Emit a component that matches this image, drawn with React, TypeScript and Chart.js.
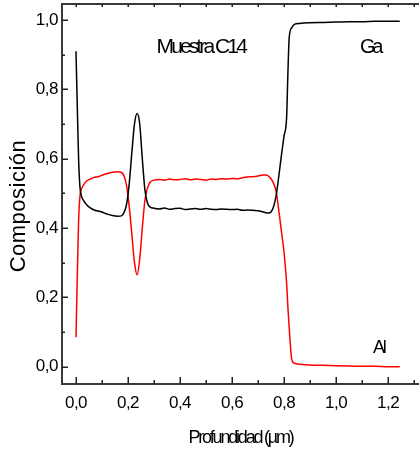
import React, { useEffect, useRef } from "react";
import { Chart, registerables } from "chart.js";

Chart.register(...registerables);

// Depth (µm)
const depth = [
  0, 0.005, 0.01, 0.015, 0.02,
  0.03, 0.04, 0.055, 0.07, 0.085,
  0.1, 0.12, 0.14, 0.16, 0.175,
  0.185, 0.195, 0.205, 0.215, 0.225,
  0.235, 0.245, 0.255, 0.265, 0.275,
  0.285, 0.3, 0.32, 0.34, 0.36,
  0.38, 0.4, 0.42, 0.44, 0.46,
  0.48, 0.5, 0.52, 0.54, 0.56,
  0.58, 0.6, 0.62, 0.64, 0.66,
  0.68, 0.7, 0.72, 0.73, 0.74,
  0.75, 0.76, 0.77, 0.78, 0.79,
  0.8, 0.81, 0.815, 0.82, 0.83,
  0.84, 0.86, 0.9, 0.95, 1.0,
  1.05, 1.1, 1.15, 1.2, 1.245,
];

// Ga composition (black)
const ga = [
  0.91, 0.75, 0.6, 0.52, 0.495,
  0.478, 0.468, 0.458, 0.452, 0.449,
  0.446, 0.44, 0.436, 0.434, 0.435,
  0.445, 0.47, 0.53, 0.62, 0.7,
  0.73, 0.7, 0.6, 0.51, 0.472,
  0.46, 0.457, 0.455, 0.458, 0.454,
  0.456, 0.457, 0.453, 0.455, 0.456,
  0.454, 0.456, 0.454, 0.453, 0.455,
  0.454, 0.453, 0.454, 0.451, 0.452,
  0.451, 0.45, 0.446, 0.444, 0.443,
  0.446, 0.462, 0.495, 0.55, 0.61,
  0.665, 0.72, 0.85, 0.95, 0.978,
  0.987, 0.99, 0.992, 0.993, 0.994,
  0.995, 0.995, 0.996, 0.996, 0.996,
];

// Al composition (red)
const al = [
  0.085, 0.26, 0.42, 0.49, 0.51,
  0.525, 0.535, 0.541, 0.546, 0.548,
  0.552, 0.557, 0.561, 0.562, 0.56,
  0.55, 0.52, 0.46, 0.38, 0.3,
  0.265, 0.31, 0.4, 0.48, 0.515,
  0.532, 0.538, 0.54, 0.538, 0.541,
  0.539, 0.54, 0.542, 0.539, 0.541,
  0.54, 0.538, 0.541, 0.54, 0.542,
  0.541, 0.543, 0.542, 0.545, 0.547,
  0.548, 0.55, 0.553, 0.553, 0.55,
  0.542, 0.528, 0.505, 0.45, 0.39,
  0.33, 0.24, 0.17, 0.11, 0.02,
  0.01, 0.007, 0.005, 0.004, 0.003,
  0.002, 0.001, 0.001, 0.0, 0.0,
];

const xTickValues = [0, 0.2, 0.4, 0.6, 0.8, 1.0, 1.2];
const yTickValues = [0, 0.2, 0.4, 0.6, 0.8, 1.0];

const sampleLabel = "Muestra C14";
const gaLabel = "Ga";
const alLabel = "Al";
const xTitle = "Profundidad (µm)";
const yTitle = "Composición";

const FONT = "'Liberation Sans', Arial, Helvetica, sans-serif";
const fmt = (v: number) => Number(v).toFixed(1).replace(".", ",");

export default function App() {
  const ref = useRef<HTMLCanvasElement>(null);

  useEffect(() => {
    document.body.style.margin = "0";
    const canvas = ref.current;
    if (!canvas) return;

    const framePlugin = {
      id: "framePlugin",
      beforeDraw(chart: any) {
        chart.ctx.letterSpacing = "-0.5px";
      },
      afterDraw(chart: any) {
        const { ctx, chartArea: a, scales } = chart;
        const xs = scales.x;
        const ys = scales.y;
        ctx.save();
        ctx.letterSpacing = "0px";
        // frame
        ctx.strokeStyle = "#3a3a3a";
        ctx.lineWidth = 2;
        ctx.beginPath();
        ctx.moveTo(a.left - 1, a.top);
        ctx.lineTo(a.right, a.top);
        ctx.moveTo(a.left, a.top);
        ctx.lineTo(a.left, a.bottom + 1);
        ctx.moveTo(a.left - 1, a.bottom);
        ctx.lineTo(a.right, a.bottom);
        ctx.stroke();
        // ticks
        ctx.strokeStyle = "#222";
        ctx.lineWidth = 1.5;
        ctx.beginPath();
        for (let i = 0; i <= 13; i++) {
          const px = Math.round(xs.getPixelForValue(i / 10)) + 0.25;
          const major = i % 2 === 0;
          ctx.moveTo(px, a.bottom);
          ctx.lineTo(px, a.bottom - (major ? 7 : 4));
          ctx.moveTo(px, a.top);
          ctx.lineTo(px, a.top + 3);
        }
        for (let i = 0; i <= 10; i++) {
          const py = Math.round(ys.getPixelForValue(i / 10)) + 0.25;
          const major = i % 2 === 0;
          ctx.moveTo(a.left, py);
          ctx.lineTo(a.left + (major ? 6 : 3), py);
        }
        ctx.stroke();

        // annotations
        ctx.fillStyle = "#000";
        ctx.textAlign = "left";
        ctx.textBaseline = "alphabetic";
        ctx.font = `21px ${FONT}`;
        ctx.letterSpacing = "-2.9px";
        ctx.fillText(sampleLabel, xs.getPixelForValue(0.31), ys.getPixelForValue(0.904));
        ctx.font = `20px ${FONT}`;
        ctx.letterSpacing = "-3.2px";
        ctx.fillText(gaLabel, xs.getPixelForValue(1.092), ys.getPixelForValue(0.906));
        ctx.font = `18px ${FONT}`;
        ctx.letterSpacing = "-2.3px";
        ctx.fillText(alLabel, xs.getPixelForValue(1.142), ys.getPixelForValue(0.04));

        // x title
        ctx.font = `18px ${FONT}`;
        ctx.letterSpacing = "-2.2px";
        ctx.textAlign = "center";
        ctx.textBaseline = "middle";
        ctx.fillText(xTitle, (a.left + a.right) / 2, a.bottom + 54);

        // y title
        ctx.save();
        ctx.translate(19, (a.top + a.bottom) / 2 + 12);
        ctx.rotate(-Math.PI / 2);
        ctx.font = `22px ${FONT}`;
        ctx.letterSpacing = "0.5px";
        ctx.textAlign = "center";
        ctx.textBaseline = "middle";
        ctx.fillText(yTitle, 0, 0);
        ctx.restore();

        ctx.restore();
      },
    };

    const chart = new Chart(canvas, {
      type: "scatter",
      data: {
        datasets: [
          {
            label: "Ga",
            data: depth.map((x, i) => ({ x, y: ga[i] })),
            borderColor: "#000000",
            backgroundColor: "#000000",
            showLine: true,
            pointRadius: 0,
            borderWidth: 1.5,
            cubicInterpolationMode: "monotone",
          },
          {
            label: "Al",
            data: depth.map((x, i) => ({ x, y: al[i] })),
            borderColor: "#ff0000",
            backgroundColor: "#ff0000",
            showLine: true,
            pointRadius: 0,
            borderWidth: 1.5,
            cubicInterpolationMode: "monotone",
          },
        ],
      },
      options: {
        animation: false,
        responsive: false,
        devicePixelRatio: 1,
        layout: { padding: { top: 4, left: 0, right: 0, bottom: 0 } },
        plugins: {
          legend: { display: false },
          tooltip: { enabled: false },
          title: { display: false },
        },
        scales: {
          x: {
            type: "linear",
            min: -0.0538,
            max: 1.319,
            grid: { display: false, drawTicks: false },
            border: { display: false },
            afterBuildTicks: (s: any) => {
              s.ticks = xTickValues.map((v) => ({ value: v }));
            },
            afterFit: (s: any) => {
              s.height = 68;
              s.paddingLeft = 0;
              s.paddingRight = 0;
            },
            ticks: {
              font: { family: FONT, size: 17 },
              color: "#000",
              padding: 9,
              maxRotation: 0,
              autoSkip: false,
              callback: (v: any) => fmt(v),
            },
          },
          y: {
            type: "linear",
            min: -0.0499,
            max: 1.046,
            grid: { display: false, drawTicks: false },
            border: { display: false },
            afterBuildTicks: (s: any) => {
              s.ticks = yTickValues.map((v) => ({ value: v }));
            },
            afterFit: (s: any) => {
              s.width = 62;
              s.paddingTop = 0;
              s.paddingBottom = 0;
            },
            ticks: {
              font: { family: FONT, size: 17 },
              color: "#000",
              padding: 4,
              autoSkip: false,
              callback: (v: any) => fmt(v),
            },
          },
        },
      },
      plugins: [framePlugin],
    } as any);

    return () => chart.destroy();
  }, []);

  return (
    <div style={{ width: 419, height: 452 }}>
      <canvas ref={ref} width={419} height={452} style={{ display: "block", width: 419, height: 452 }} />
    </div>
  );
}
